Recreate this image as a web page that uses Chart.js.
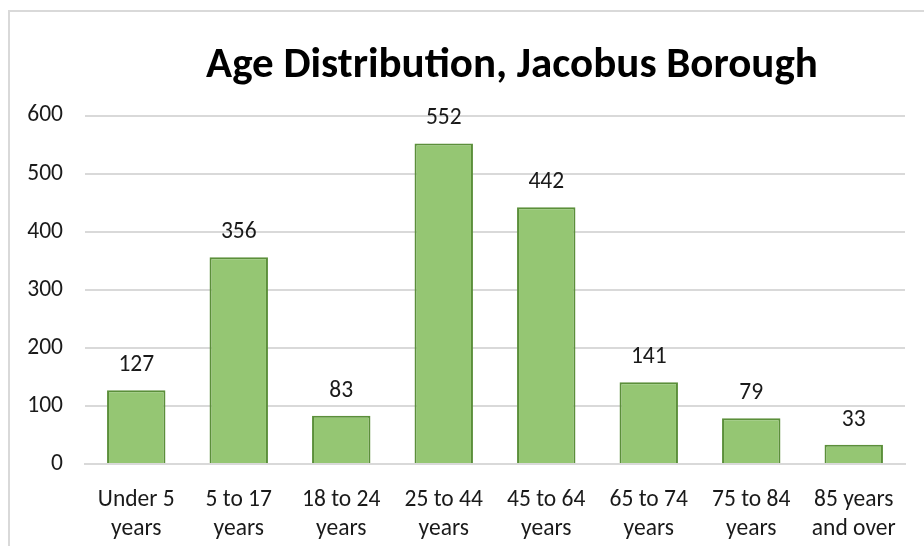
<!DOCTYPE html>
<html>
<head>
<meta charset="utf-8">
<script src="https://cdn.jsdelivr.net/npm/chart.js@4.4.1/dist/chart.umd.min.js"></script>
<style>
  html, body { margin: 0; padding: 0; background: #fff; overflow: hidden; }
  #frame {
    position: absolute; left: 8px; top: 10px;
    width: 1004px; height: 560px;
    border-left: 2px solid #d9d9d9; border-top: 2px solid #d9d9d9;
  }
  #wrap { position: absolute; left: 0; top: 0; width: 1004px; height: 540px; }
</style>
</head>
<body>
<div id="frame"><div id="wrap"><canvas id="ageChart"></canvas></div></div>
<script>
// data
const categories = [
  ['Under 5', 'years'], ['5 to 17', 'years'], ['18 to 24', 'years'], ['25 to 44', 'years'],
  ['45 to 64', 'years'], ['65 to 74', 'years'], ['75 to 84', 'years'], ['85 years', 'and over']
];
const population = [127, 356, 83, 552, 442, 141, 79, 33];
const yTicks = [0, 100, 200, 300, 400, 500, 600];

const FONT = "Carlito, 'Open Sans', 'Noto Sans', sans-serif";
const TEXT = '#1a1a1a';

// labels above each bar
const valueLabels = {
    id: 'valueLabels',
    afterDatasetsDraw(chart) {
        const ctx = chart.ctx;
        const meta = chart.getDatasetMeta(0);
        ctx.save();
        ctx.font = `23.5px ${FONT}`;
        ctx.fillStyle = TEXT;
        ctx.textAlign = 'center';
        ctx.textBaseline = 'middle';
        meta.data.forEach((bar, i) => {
            ctx.fillText(String(population[i]), bar.x, bar.y - 25);
        });
        ctx.restore();
    }
};

const ctx = document.getElementById('ageChart');
new Chart(ctx, {
    type: 'bar',
    data: {
        labels: categories,
        datasets: [{
            data: population,
            backgroundColor: '#95c673',
            borderColor: '#5b8f3a',
            borderWidth: 2,
            borderSkipped: 'bottom',
            barPercentage: 0.57,
            categoryPercentage: 1.0,
        }],
    },
    options: {
        responsive: true,
        maintainAspectRatio: false,
        animation: false,
        layout: { padding: 0 },
        plugins: {
            legend: { display: false },
            tooltip: { enabled: false },
            title: {
                display: true,
                text: 'Age Distribution, Jacobus Borough',
                color: '#000',
                font: { family: FONT, size: 43, weight: 'bold', lineHeight: 1.2 },
                padding: { top: 28, bottom: 24 },
            },
        },
        scales: {
            x: {
                afterFit(scale) { scale.height = 88; },
                grid: { display: false },
                border: { display: true, color: '#d9d9d9', width: 2 },
                ticks: {
                    color: TEXT,
                    font: { family: FONT, size: 23.5, lineHeight: 1.25 },
                    maxRotation: 0,
                    autoSkip: false,
                    padding: 13,
                },
            },
            y: {
                min: 0,
                max: 600,
                afterFit(scale) { scale.width = 75; },
                afterBuildTicks(scale) { scale.ticks = yTicks.map(v => ({ value: v })); },
                grid: { color: '#d9d9d9', lineWidth: 2, drawTicks: false },
                border: { display: false },
                ticks: {
                    color: TEXT,
                    font: { family: FONT, size: 23.5 },
                    padding: 22,
                },
            },
            // empty right-hand box so the plot stops where the reference does
            spacer: {
                type: 'linear',
                position: 'right',
                display: true,
                afterFit(scale) { scale.width = 109; },
                grid: { display: false },
                border: { display: false },
                ticks: { display: false },
            },
        },
    },
    plugins: [valueLabels],
});
</script>
</body>
</html>
